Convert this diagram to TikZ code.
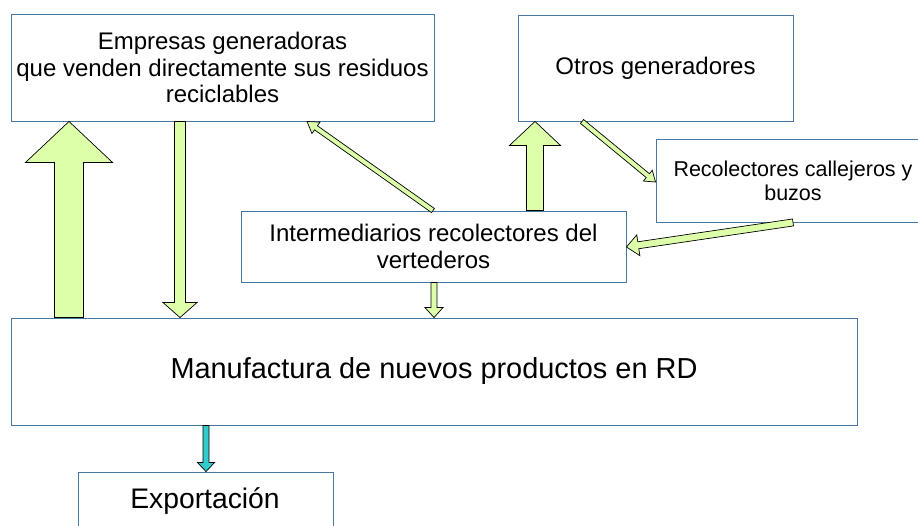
\documentclass[tikz,border=0pt]{standalone}
\usepackage{fontspec}
\setmainfont{Liberation Sans}
\usetikzlibrary{calc}
\definecolor{boxline}{RGB}{70,120,160}
\definecolor{flowgreen}{RGB}{221,255,170}
\definecolor{flowteal}{RGB}{51,204,204}
\tikzset{
  flowbox/.style={draw=boxline, line width=0.9pt, fill=white, inner sep=0pt, align=center},
  greenarrow/.style={draw=black, line width=0.7pt, fill=flowgreen, line join=miter},
  tealarrow/.style={draw=black, line width=0.7pt, fill=flowteal, line join=miter},
}
\newcommand\blockarrow[6]{%
  \coordinate (baH) at ($(#3)!#6!(#2)$);
  \draw[#1] ($(#2)!#4!90:(#3)$) -- ($(baH)!#4!90:(#3)$) -- ($(baH)!#5!90:(#3)$) -- (#3)
    -- ($(baH)!#5!-90:(#3)$) -- ($(baH)!#4!-90:(#3)$) -- ($(#2)!#4!-90:(#3)$) -- cycle;}
\begin{document}
\begin{tikzpicture}[x=1pt,y=-1pt]
\useasboundingbox (0,0) rectangle (918,525);
\clip (0,0) rectangle (918,525);
% boxes
\node[flowbox, minimum width=423pt, minimum height=107pt, font=\fontsize{24}{26.5}\selectfont] (emp) at (222.5,67.5)
  {Empresas generadoras\\que venden directamente sus residuos\\reciclables};
\node[flowbox, minimum width=275pt, minimum height=106pt, font=\fontsize{24}{27}\selectfont] (otros) at (655.5,68)
  {Otros generadores};
\node[flowbox, minimum width=274pt, minimum height=83pt, font=\fontsize{21.5}{24}\selectfont] (recol) at (793,180.5)
  {Recolectores callejeros y\\buzos};
\node[flowbox, minimum width=385pt, minimum height=71pt, font=\fontsize{24}{27}\selectfont] (inter) at (433.5,246.5)
  {Intermediarios recolectores del\\vertederos};
\node[flowbox, minimum width=846pt, minimum height=107pt, font=\fontsize{28.9}{33}\selectfont] (man) at (434,371.5)
  {Manufactura de nuevos productos en RD};
\node[flowbox, minimum width=255pt, minimum height=90pt] (exp) at (205.5,517) {};
\node[inner sep=0pt, font=\fontsize{28.3}{32}\selectfont] (exptext) at (205,501) {Exportación};
% connector end points
\coordinate (a1s) at (69,0 |- man.north);
\coordinate (a1t) at (69,0 |- emp.south);
\coordinate (a2s) at (180,0 |- emp.south);
\coordinate (a2t) at (180,0 |- man.north);
\coordinate (a3s) at (434,0 |- inter.south);
\coordinate (a3t) at (434,0 |- man.north);
\coordinate (a4s) at (433,0 |- inter.north);
\coordinate (a4t) at (307,0 |- emp.south);
\coordinate (a5s) at (535,0 |- inter.north);
\coordinate (a5t) at (535,0 |- otros.south);
\coordinate (a6s) at (582,0 |- otros.south);
\coordinate (a6t) at (recol.west |- 0,182);
\coordinate (a7s) at (793,0 |- recol.south);
\coordinate (a7t) at (inter.east |- 0,247);
\coordinate (a8s) at (206,0 |- man.south);
\coordinate (a8t) at (206,0 |- exp.north);
% connectors
\blockarrow{greenarrow}{a1s}{a1t}{14.5pt}{43.5pt}{41pt}
\blockarrow{greenarrow}{a2s}{a2t}{5.5pt}{17pt}{15pt}
\blockarrow{greenarrow}{a3s}{a3t}{3pt}{9pt}{10pt}
\blockarrow{greenarrow}{a4s}{a4t}{2.5pt}{7pt}{11pt}
\blockarrow{greenarrow}{a5s}{a5t}{8.5pt}{25.5pt}{24pt}
\blockarrow{greenarrow}{a6s}{a6t}{2.5pt}{7pt}{10pt}
\blockarrow{greenarrow}{a7s}{a7t}{3.5pt}{10.5pt}{12pt}
\blockarrow{tealarrow}{a8s}{a8t}{3pt}{8.5pt}{9pt}
\end{tikzpicture}
\end{document}
